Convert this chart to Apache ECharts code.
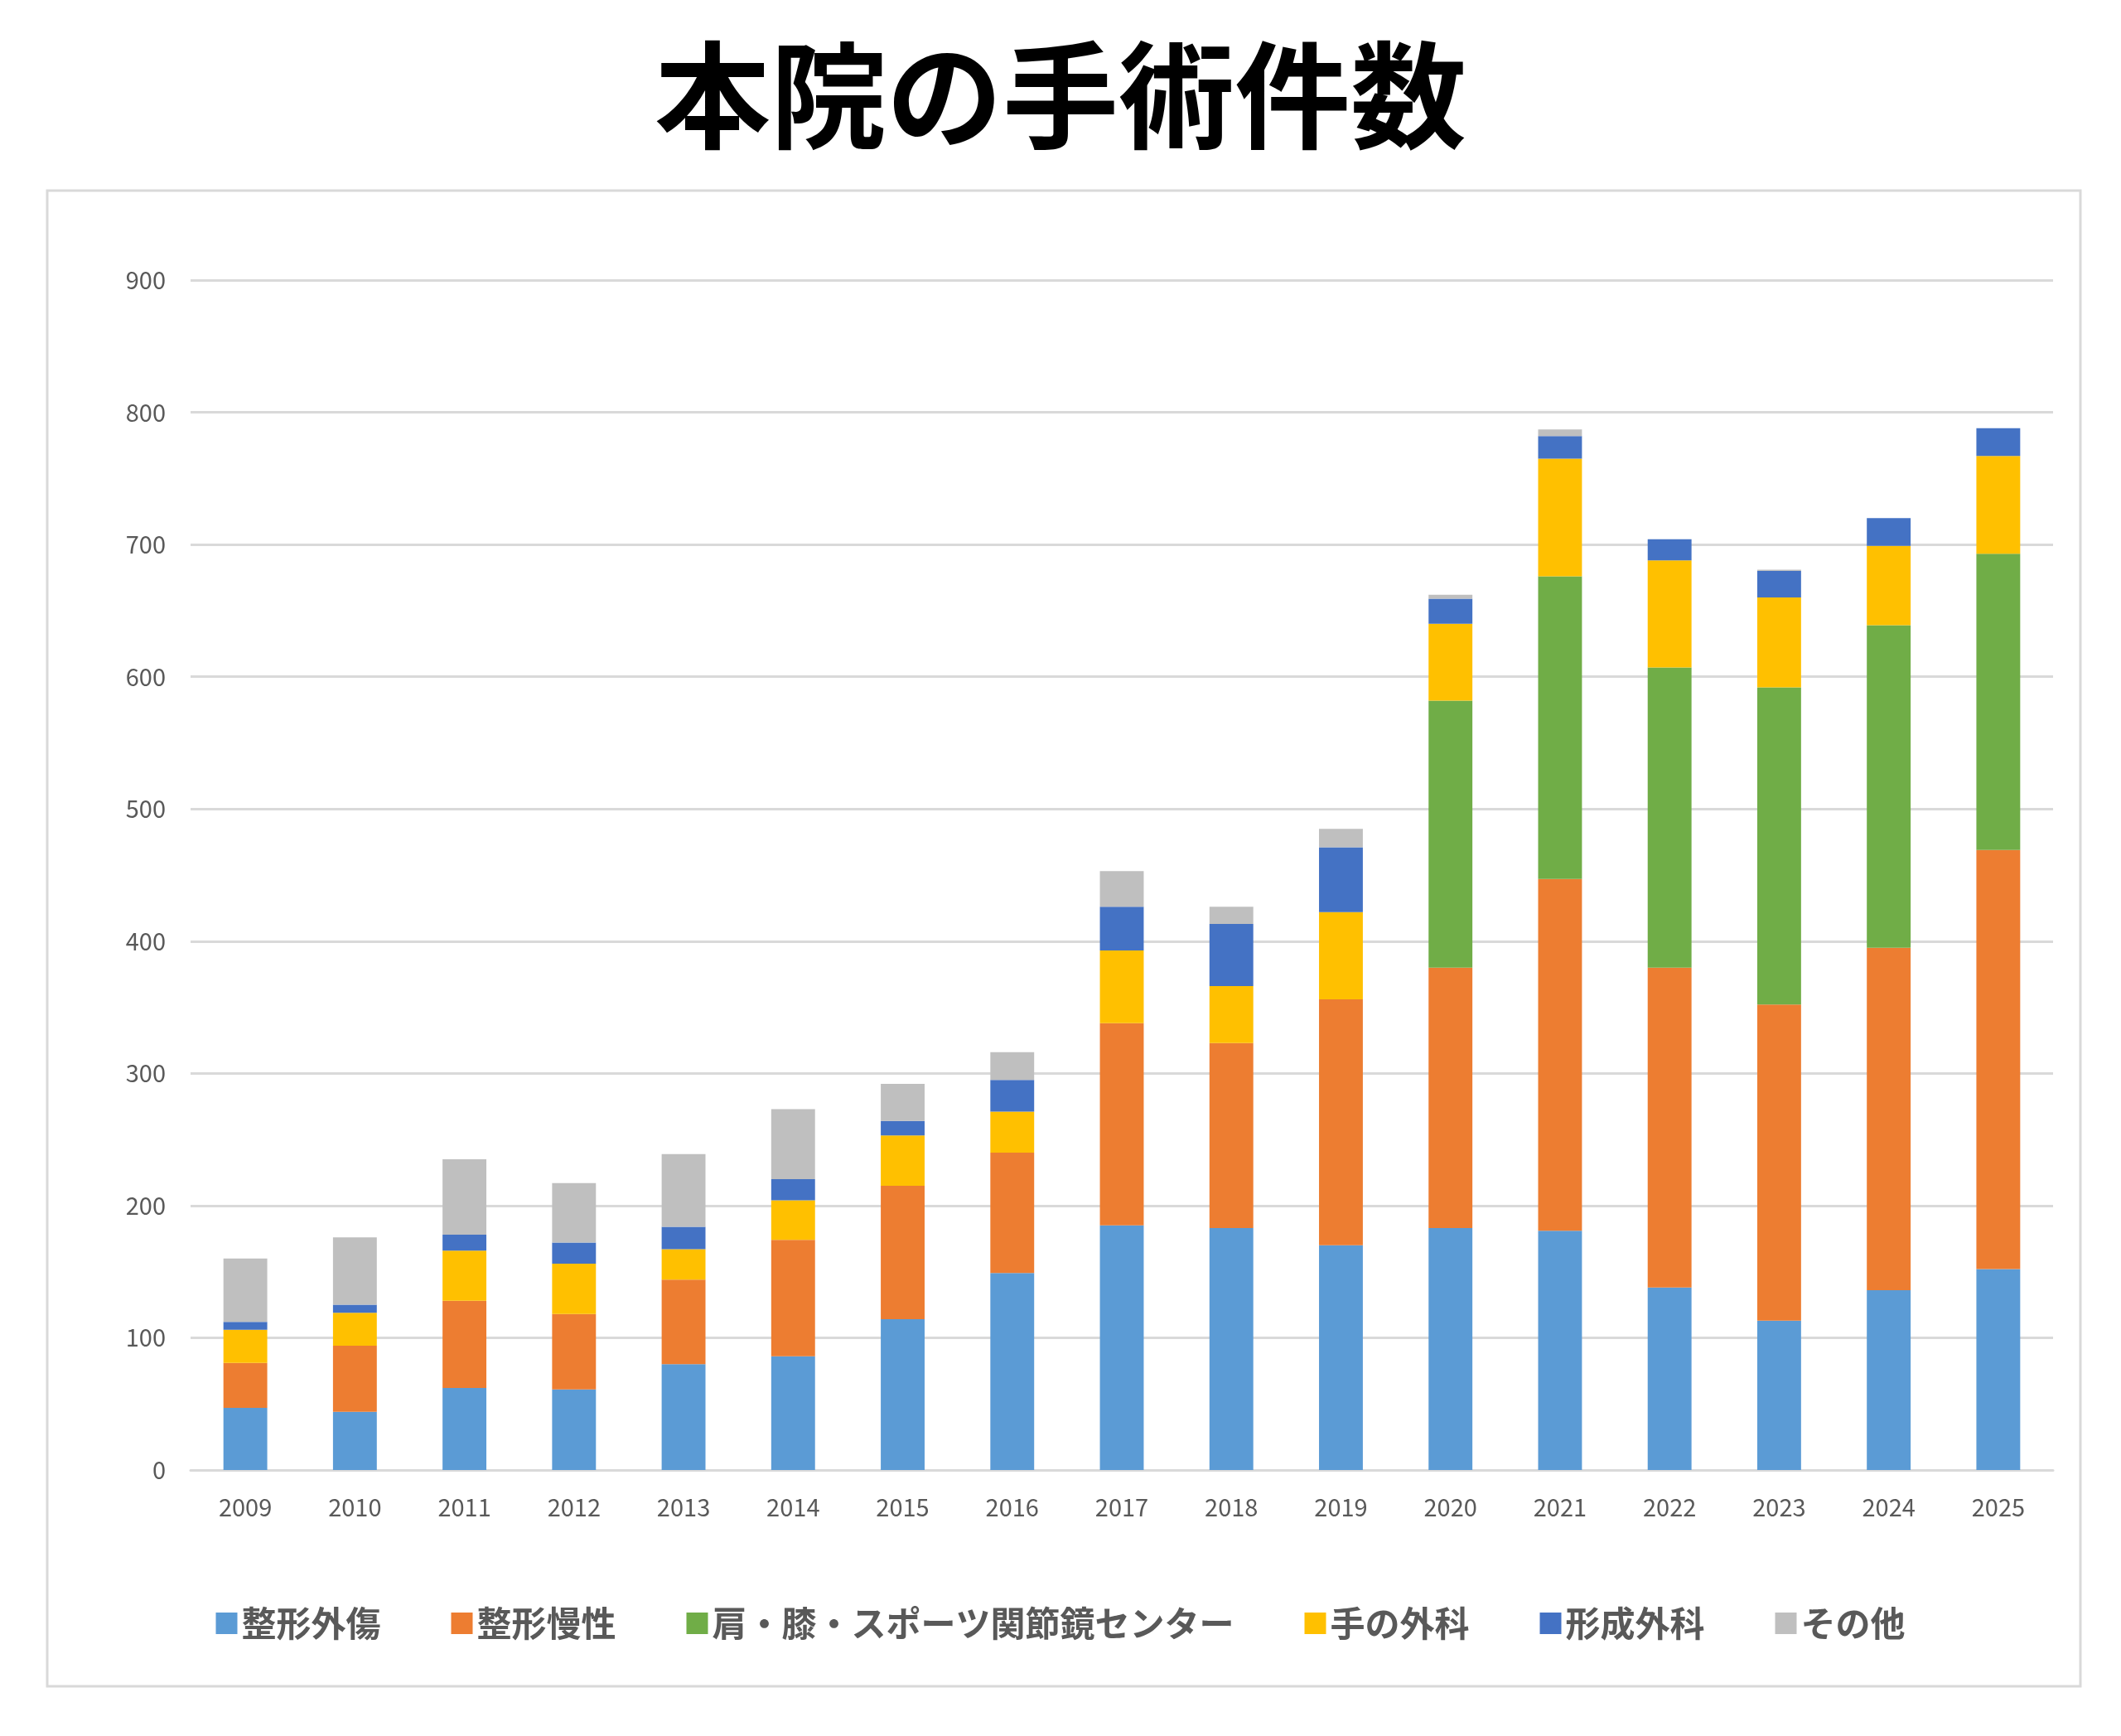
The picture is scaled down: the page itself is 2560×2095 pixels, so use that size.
<!DOCTYPE html>
<html><head><meta charset="utf-8">
<script src="https://cdn.jsdelivr.net/npm/echarts@6/dist/echarts.min.js"></script>
<style>html,body{margin:0;padding:0;background:#fff}#c{width:2560px;height:2095px}</style>
</head><body><div id="c"></div>
<script>
var years = ['2009','2010','2011','2012','2013','2014','2015','2016','2017','2018','2019','2020','2021','2022','2023','2024','2025'];
var trauma  = [47,44,62,61,80,86,114,149,185,183,170,183,181,138,113,136,152];
var chronic = [34,50,66,57,64,88,101,91,153,140,186,197,266,242,239,259,317];
var sports  = [0,0,0,0,0,0,0,0,0,0,0,202,229,227,240,244,224];
var hand    = [25,25,38,38,23,30,38,31,55,43,66,58,89,81,68,60,74];
var plastic = [6,6,12,16,17,16,11,24,33,47,49,19,17,16,20,21,21];
var other   = [48,51,57,45,55,53,28,21,27,13,14,3,5,0,1,0,0];
var names = ['整形外傷','整形慢性','肩・膝・スポーツ関節鏡センター','手の外科','形成外科','その他'];
var colors = ['#5b9bd5','#ed7d31','#70ad47','#ffc000','#4472c4','#bfbfbf'];
var chart = echarts.init(document.getElementById('c'));
var font = '"Noto Sans CJK JP", "Noto Sans", sans-serif';
chart.setOption({
  backgroundColor: '#fff',
  textStyle: {fontFamily: font},
  graphic: [{type:'rect', shape:{x:57,y:230,width:2454,height:1805}, style:{fill:'none', stroke:'#d9d9d9', lineWidth:3}}],
  title: {text:'本院の手術件数', left:'center', top:40, textStyle:{fontSize:140, fontWeight:'bold', color:'#000', fontFamily:font}},
  legend: {bottom:110, left:'center', itemWidth:26, itemHeight:26, itemGap:85, icon:'rect',
    textStyle:{fontSize:42, fontWeight:'bold', color:'#595959', fontFamily:font}},
  grid: {left:230, right:82, top:338, bottom:321},
  xAxis: {type:'category', data:years, axisTick:{show:false},
    axisLine:{lineStyle:{color:'#d9d9d9', width:3}},
    axisLabel:{fontSize:29, color:'#595959', margin:30}},
  yAxis: {type:'value', min:0, max:900, interval:100, axisLine:{show:false}, axisTick:{show:false},
    splitLine:{lineStyle:{color:'#d9d9d9', width:3}},
    axisLabel:{fontSize:29, color:'#595959', margin:30}},
  series: [trauma,chronic,sports,hand,plastic,other].map(function(d,i){
    return {name:names[i], type:'bar', stack:'t', data:d, barWidth:'40%', itemStyle:{color:colors[i]}};
  })
});
</script></body></html>
